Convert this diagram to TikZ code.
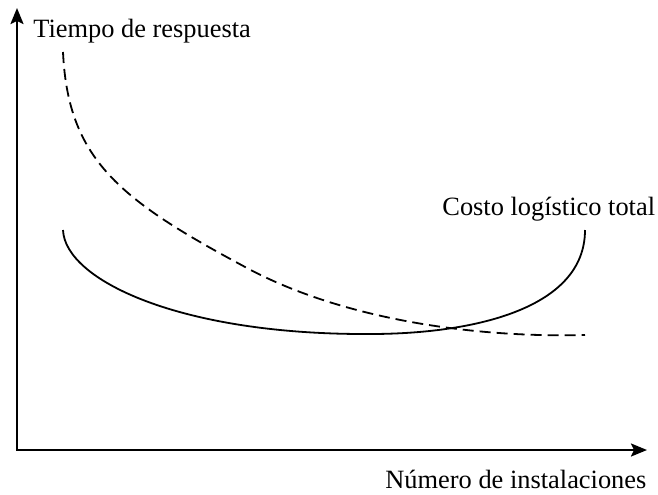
\documentclass[tikz,border=0pt]{standalone}
\usepackage{fontspec}
\setmainfont{Liberation Serif}
\usetikzlibrary{arrows.meta}

\begin{document}
\begin{tikzpicture}[
  x=0.5pt, y=-0.5pt,
  axis/.style={line width=1.1pt, {Stealth[length=8pt,width=6.5pt,inset=1.5pt]}-{Stealth[length=8pt,width=6.5pt,inset=1.5pt]}},
  curve/.style={line width=0.9pt},
  lbl/.style={anchor=base west, inner sep=0pt, font=\fontsize{13.2}{15}\selectfont}
]
  \useasboundingbox (0,0) rectangle (658,494);

  %% Axes
  \coordinate (o) at (17,450);
  \coordinate (ytop) at (17,8);
  \coordinate (xend) at (647,450);
  \draw[axis] (ytop) -- (o) -- (xend);

  %% Labels
  \node[lbl] (tiempo) at (33,37) {Tiempo de respuesta};
  \node[lbl] (costo) at (442,215) {Costo logístico total};
  \node[lbl] (numero) at (385,488) {Número de instalaciones};

  %% Curves
  \coordinate (d0) at (63,52);
  \coordinate (d1) at (247,268);
  \coordinate (d2) at (585,335);
  \draw[curve, dash pattern=on 5.5pt off 3pt]
    (d0) .. controls (68,160) and (120,200) .. (d1)
         .. controls (340,318) and (470,338) .. (d2);

  \coordinate (c0) at (63,230);
  \coordinate (c1) at (370,334);
  \coordinate (c2) at (585,230);
  \draw[curve]
    (c0) .. controls (65,280) and (180,335) .. (c1)
         .. controls (470,334) and (585,310) .. (c2);
\end{tikzpicture}
\end{document}
